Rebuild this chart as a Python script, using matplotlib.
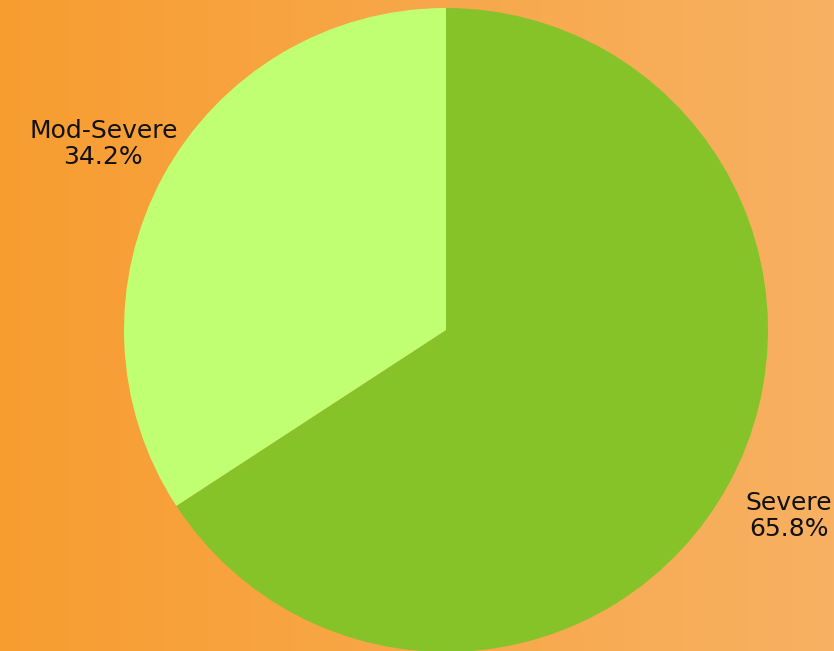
import numpy as np
import matplotlib
matplotlib.use('Agg')
import matplotlib.pyplot as plt
from matplotlib.colors import LinearSegmentedColormap

# Datos
categorias = ['Severe', 'Mod-Severe']
porcentajes = [65.8, 34.2]
colores = ['#86C328', '#C0FE72']

fig = plt.figure(figsize=(8.34, 6.51), dpi=100)

# Fondo con degradado naranja
ax_bg = fig.add_axes([0, 0, 1, 1])
grad = np.linspace(0, 1, 256).reshape(1, -1)
cmap_bg = LinearSegmentedColormap.from_list('bg', ['#F79D30', '#F8B162'])
ax_bg.imshow(grad, aspect='auto', cmap=cmap_bg, extent=[0, 1, 0, 1])
ax_bg.axis('off')

# Pastel
W, H = 834, 651
r_px = 322
cx, cy = 446, 651 - 330
ax = fig.add_axes([(cx - r_px) / W, (cy - r_px) / H, 2 * r_px / W, 2 * r_px / H])
etiquetas = [f'{c}\n{p:.1f}%' for c, p in zip(categorias, porcentajes)]
wedges, textos = ax.pie(porcentajes, labels=etiquetas, colors=colores, startangle=90,
                        counterclock=False, radius=1, labeldistance=1.21,
                        wedgeprops=dict(linewidth=0),
                        textprops=dict(fontsize=18, family='DejaVu Sans', color='#111111'))
for t in textos:
    t.set_horizontalalignment('center')
    t.set_multialignment('center')
    t.set_linespacing(1.1)
ax.set_xlim(-1, 1)
ax.set_ylim(-1, 1)
ax.set_aspect('equal')
ax.axis('off')

fig.savefig('out.png', dpi=100)
